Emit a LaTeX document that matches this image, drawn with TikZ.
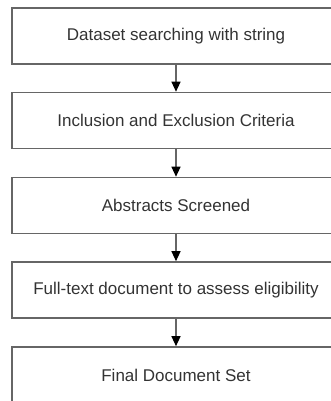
\documentclass[tikz,border=0pt]{standalone}
\usepackage{fontspec}
\setmainfont{Liberation Sans}
\usetikzlibrary{arrows.meta}
\definecolor{boxline}{HTML}{666666}
\definecolor{boxtext}{HTML}{333333}
\tikzset{
  stepbox/.style={draw=boxline, line width=1.6pt, rectangle,
    minimum width=328pt, minimum height=56pt, inner sep=0pt,
    text=boxtext, font=\fontsize{17pt}{20pt}\selectfont},
  flow/.style={draw=boxline, line width=1.2pt,
    -{Triangle[length=10pt,width=9pt,color=black]}}
}
\begin{document}
\begin{tikzpicture}[x=1pt,y=-1pt]
  \clip (0,0) rectangle (331,401);
  \node[stepbox] (s1) at (176,36)    {Dataset searching with string};
  \node[stepbox] (s2) at (176,120.5) {Inclusion and Exclusion Criteria};
  \node[stepbox] (s3) at (176,205.5) {Abstracts Screened};
  \node[stepbox] (s4) at (176,290)   {Full-text document to assess eligibility};
  \node[stepbox] (s5) at (176,375)   {Final Document Set};
  \draw[flow] (s1.south) -- (s2.north);
  \draw[flow] (s2.south) -- (s3.north);
  \draw[flow] (s3.south) -- (s4.north);
  \draw[flow] (s4.south) -- (s5.north);
\end{tikzpicture}
\end{document}
